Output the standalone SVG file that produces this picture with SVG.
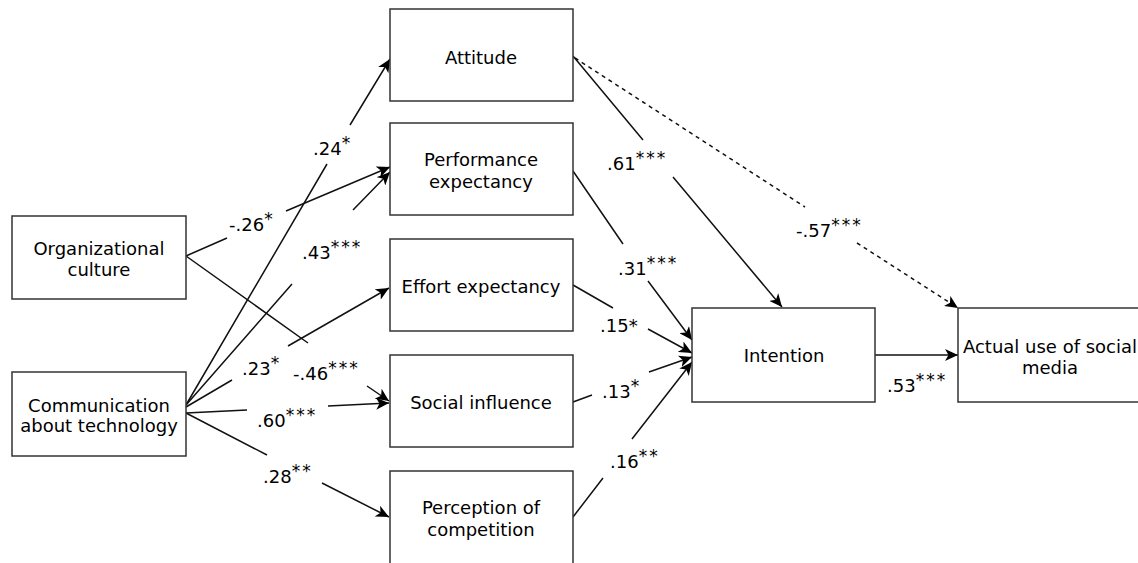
<svg xmlns="http://www.w3.org/2000/svg" width="1138" height="563" viewBox="0 0 1138 563">
<style>
.box{fill:#fff;stroke:#333;stroke-width:1.5}
.t{font-family:"DejaVu Sans","Liberation Sans",sans-serif;font-size:18px;fill:#000}
.c{text-anchor:middle}
.ln{fill:none;stroke:#111;stroke-width:1.5}
.dash{stroke-dasharray:4 4}
.st{font-size:17px;letter-spacing:2px}
</style>
<defs>
<marker id="arr" markerUnits="userSpaceOnUse" markerWidth="14" markerHeight="12" viewBox="0 0 14 12" refX="13" refY="6" orient="auto">
<path d="M0,0 L13,6 L0,12 L3.5,6 Z" fill="#000"/>
</marker>
</defs>
<rect width="1138" height="563" fill="#fff"/>
<g id="connectors">
<path class="ln" marker-end="url(#arr)" d="M186,256 L227,238 M286,211 L390,167"/>
<path class="ln" marker-end="url(#arr)" d="M186,256 L308,343 M367,386 L389,401"/>
<path class="ln" marker-end="url(#arr)" d="M186,405 L327,164 M350,125 L390,59"/>
<path class="ln" marker-end="url(#arr)" d="M186,405 L292,284 M353,210 L390,172"/>
<path class="ln" marker-end="url(#arr)" d="M186,407 L232,380 M288,346 L389,288"/>
<path class="ln" marker-end="url(#arr)" d="M186,413 L247,410 M328,406 L389,403"/>
<path class="ln" marker-end="url(#arr)" d="M186,413 L267,455 M322,483 L389,517"/>
<path class="ln" marker-end="url(#arr)" d="M573,56 L643,140 M673,177 L782,307"/>
<path class="ln dash" marker-end="url(#arr)" d="M575,58 L805,207 M857,243 L958,308"/>
<path class="ln" marker-end="url(#arr)" d="M573,171 L623,244 M648,281 L692,340"/>
<path class="ln" marker-end="url(#arr)" d="M573,285 L613,308 M648,329 L692,353"/>
<path class="ln" marker-end="url(#arr)" d="M573,402 L592,395 M649,372 L692,357"/>
<path class="ln" marker-end="url(#arr)" d="M573,517 L603,478 M632,439 L692,362"/>
<path class="ln" marker-end="url(#arr)" d="M875,355 L958,355"/>
</g>
<g id="labels">
<text class="t" x="313" y="155">.24<tspan class="st" dy="-6">*</tspan></text>
<text class="t" x="229" y="231">-.26<tspan class="st" dy="-6">*</tspan></text>
<text class="t" x="302" y="259">.43<tspan class="st" dy="-6">***</tspan></text>
<text class="t" x="242" y="375">.23<tspan class="st" dy="-6">*</tspan></text>
<text class="t" x="293" y="380">-.46<tspan class="st" dy="-6">***</tspan></text>
<text class="t" x="257" y="427">.60<tspan class="st" dy="-6">***</tspan></text>
<text class="t" x="263" y="483">.28<tspan class="st" dy="-6">**</tspan></text>
<text class="t" x="607" y="170">.61<tspan class="st" dy="-6">***</tspan></text>
<text class="t" x="618" y="275">.31<tspan class="st" dy="-6">***</tspan></text>
<text class="t" x="600" y="332">.15*</text>
<text class="t" x="602" y="398">.13<tspan class="st" dy="-6">*</tspan></text>
<text class="t" x="610" y="468">.16<tspan class="st" dy="-6">**</tspan></text>
<text class="t" x="796" y="237">-.57<tspan class="st" dy="-6">***</tspan></text>
<text class="t" x="887" y="392">.53<tspan class="st" dy="-6">***</tspan></text>
</g>
<g id="org-culture">
<rect class="box" x="12" y="216" width="174" height="83"/>
<text class="t c" x="99" y="255">Organizational</text>
<text class="t c" x="99" y="276">culture</text>
</g>
<g id="comm-tech">
<rect class="box" x="12" y="372" width="174" height="84"/>
<text class="t c" x="99" y="412">Communication</text>
<text class="t c" x="99" y="432">about technology</text>
</g>
<g id="attitude">
<rect class="box" x="390" y="9" width="183" height="92"/>
<text class="t c" x="481" y="64">Attitude</text>
</g>
<g id="perf-exp">
<rect class="box" x="390" y="123" width="183" height="92"/>
<text class="t c" x="481" y="166">Performance</text>
<text class="t c" x="481" y="188">expectancy</text>
</g>
<g id="effort-exp">
<rect class="box" x="390" y="239" width="183" height="92"/>
<text class="t c" x="481" y="293">Effort expectancy</text>
</g>
<g id="social-inf">
<rect class="box" x="390" y="355" width="183" height="92"/>
<text class="t c" x="481" y="409">Social influence</text>
</g>
<g id="perc-comp">
<rect class="box" x="390" y="471" width="183" height="95"/>
<text class="t c" x="481" y="514">Perception of</text>
<text class="t c" x="481" y="536">competition</text>
</g>
<g id="intention">
<rect class="box" x="692" y="308" width="183" height="94"/>
<text class="t c" x="784" y="362">Intention</text>
</g>
<g id="actual-use">
<rect class="box" x="958" y="308" width="186" height="94"/>
<text class="t c" x="1050" y="353">Actual use of social</text>
<text class="t c" x="1050" y="374">media</text>
</g>
</svg>
